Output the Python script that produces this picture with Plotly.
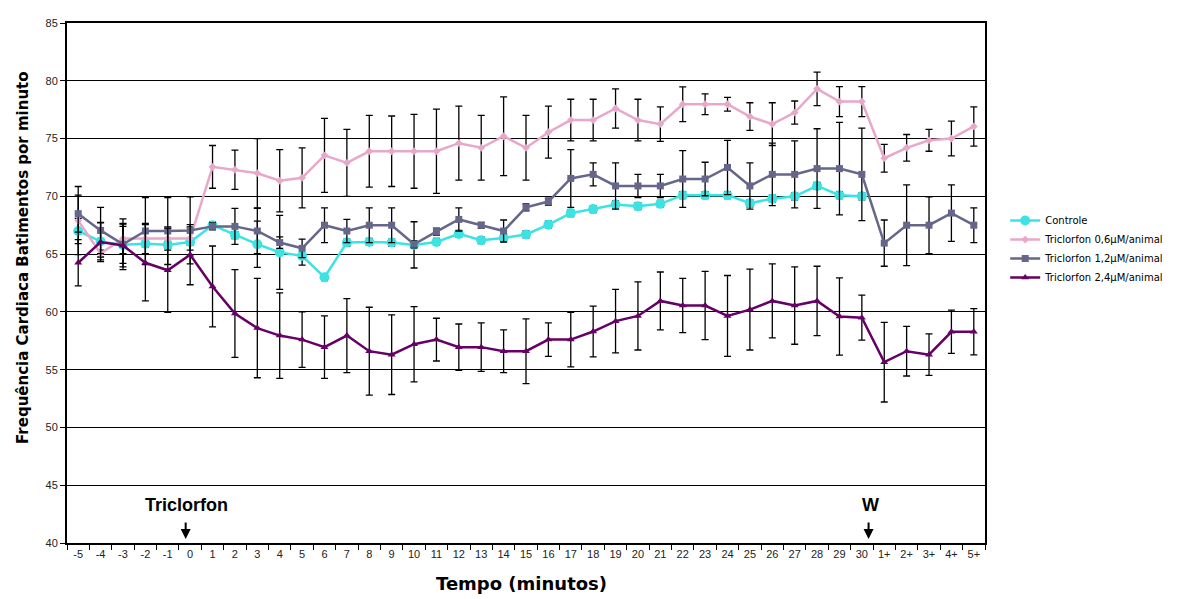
import plotly.graph_objects as go

categories = ["-5", "-4", "-3", "-2", "-1", "0"] + [str(i) for i in range(1, 31)] + ["1+", "2+", "3+", "4+", "5+"]

controle = [67.0, 66.1, 65.8, 65.9, 65.8, 66.05, 67.5, 66.65, 65.85, 65.15, 64.85, 63.0,
            66.0, 66.05, 66.0, 65.8, 66.05, 66.75, 66.2, 66.4, 66.7, 67.55, 68.55, 68.9,
            69.3, 69.15, 69.35, 70.1, 70.1, 70.1, 69.4, 69.8, 70.0, 70.9, 70.1, 70.0]
controle_err = [1.1, 1.6, 1.6, 0.3, 0.3, 0.3, 0.3, 0.3, 2.0, 3.2, 0.8, 0.3,
                0.3, 0.3, 0.3, 2.0, 0.3, 0.3, 0.3, 0.3, 0.3, 0.3, 0.3, 0.3,
                0.3, 0.3, 0.3, 0.3, 0.3, 0.3, 0.3, 0.3, 0.3, 0.3, 0.3, 0.3]

tric_06 = [67.9, 65.05, 66.35, 66.35, 66.35, 66.35, 72.55, 72.3, 72.0, 71.35, 71.6, 73.55,
           72.9, 73.9, 73.9, 73.9, 73.9, 74.6, 74.2, 75.2, 74.2, 75.55, 76.6, 76.6,
           77.6, 76.6, 76.25, 77.97, 77.97, 77.97, 76.9, 76.25, 77.25, 79.3, 78.2, 78.2,
           73.3, 74.2, 74.85, 75.0, 76.05]
tric_06_err = [2.95, 0.3, 1.3, 1.3, 1.0, 1.0, 1.85, 1.7, 3.0, 2.7, 2.6, 3.2,
               2.9, 3.1, 3.05, 3.2, 3.65, 3.2, 2.8, 3.4, 2.8, 2.25, 1.8, 1.8,
               1.7, 1.8, 1.5, 1.5, 0.9, 0.6, 1.2, 1.85, 1.0, 1.45, 1.3, 1.3,
               1.2, 1.15, 0.95, 1.5, 1.7]

tric_12 = [68.5, 67.05, 65.85, 67.0, 67.0, 67.05, 67.4, 67.4, 67.0, 66.0, 65.5, 67.5,
           67.0, 67.5, 67.5, 65.85, 66.95, 68.0, 67.5, 67.0, 69.05, 69.55, 71.55, 71.9,
           70.9, 70.9, 70.9, 71.5, 71.5, 72.5, 70.9, 71.9, 71.9, 72.4, 72.4, 71.9,
           65.95, 67.5, 67.5, 68.55, 67.5]
tric_12_err = [1.6, 2.0, 2.2, 2.9, 2.9, 2.9, 0.3, 1.55, 1.95, 0.5, 0.8, 1.5,
               1.0, 1.5, 1.5, 0.3, 0.3, 1.0, 0.25, 0.95, 0.3, 0.3, 2.5, 1.0,
               2.0, 1.0, 1.0, 2.45, 1.45, 2.35, 2.0, 2.7, 2.9, 3.45, 4.0, 4.0,
               2.0, 3.5, 2.45, 2.45, 1.5]

tric_24 = [64.25, 66.05, 65.75, 64.25, 63.6, 64.95, 62.2, 59.86, 58.6, 57.95, 57.6, 56.95,
           57.95, 56.6, 56.3, 57.2, 57.6, 56.95, 56.95, 56.6, 56.6, 57.6, 57.6, 58.3,
           59.2, 59.65, 60.95, 60.55, 60.55, 59.65, 60.2, 60.95, 60.55, 60.95, 59.6, 59.5,
           55.65, 56.6, 56.3, 58.28, 58.28]
tric_24_err = [2.0, 1.7, 1.85, 3.3, 3.65, 2.6, 3.5, 3.8, 4.3, 3.7, 2.4, 2.7,
               3.2, 3.8, 3.45, 3.25, 1.85, 2.0, 2.1, 1.85, 2.8, 1.45, 2.35, 2.2,
               2.75, 2.95, 2.5, 2.35, 2.95, 3.5, 3.5, 3.2, 3.35, 3.0, 3.35, 1.95,
               3.45, 2.15, 1.8, 1.87, 2.0]

series_names = ["Controle", "Triclorfon 0,6µM/animal", "Triclorfon 1,2µM/animal", "Triclorfon 2,4µM/animal"]
y_ticks = [40, 45, 50, 55, 60, 65, 70, 75, 80, 85]

styles = [
    dict(color="#3DE3E3", symbol="circle", size=10, lw=2.5),
    dict(color="#E8A8CA", symbol="diamond", size=6, lw=2.5),
    dict(color="#66668A", symbol="square", size=7, lw=2.5),
    dict(color="#660066", symbol="triangle-up", size=7, lw=2.5),
]
datasets = [(controle, controle_err), (tric_06, tric_06_err), (tric_12, tric_12_err), (tric_24, tric_24_err)]

fig = go.Figure()
for name, (vals, errs), st in zip(series_names, datasets, styles):
    fig.add_trace(go.Scatter(
        x=categories[:len(vals)], y=vals, name=name, mode="lines+markers",
        line=dict(color=st["color"], width=st["lw"]),
        marker=dict(color=st["color"], symbol=st["symbol"], size=st["size"]),
        error_y=dict(type="data", array=errs, visible=True, color="black", thickness=1.3, width=3.5),
    ))

# page body has an 8px default margin: size the figure so the plot area lands where the reference's does
fig.update_layout(
    width=1196, height=591,
    margin=dict(l=59, r=219, t=9, b=56),
    paper_bgcolor="white", plot_bgcolor="white",
    font=dict(family="Liberation Sans, Arial, sans-serif", color="#222"),
    showlegend=True,
    legend=dict(x=1.022, y=0.648, xanchor="left", yanchor="top",
                font=dict(size=10, color="black", family="DejaVu Sans, Arial"),
                bgcolor="rgba(0,0,0,0)", itemwidth=30, tracegroupgap=0),
    xaxis=dict(type="category", categoryorder="array", categoryarray=categories,
               range=[-0.5, len(categories) - 0.5], showgrid=False,
               ticks="outside", tickson="boundaries", ticklen=5, tickcolor="black",
               showline=True, linecolor="black", linewidth=2, mirror=True,
               tickfont=dict(size=11, color="#222"), tickangle=0),
    yaxis=dict(range=[40, 85], tickvals=y_ticks, showgrid=True, gridcolor="black", gridwidth=1,
               ticks="outside", ticklen=5, tickcolor="black",
               showline=True, linecolor="black", linewidth=2, mirror=True,
               tickfont=dict(size=11, color="#222"), zeroline=False),
)

fig.add_annotation(text="<b>Frequência Cardiaca Batimentos por minuto</b>", xref="paper", yref="paper",
                   x=-0.06, y=0.55, textangle=-90, showarrow=False,
                   font=dict(size=15, color="black", family="DejaVu Sans, Arial"))
fig.add_annotation(text="<b>Tempo (minutos)</b>", xref="paper", yref="paper",
                   x=0.495, y=-0.078, yanchor="middle", showarrow=False,
                   font=dict(size=18, color="black", family="DejaVu Sans, Arial"))

# event markers
fig.add_annotation(text="<b>Triclorfon</b>", x=4.85, y=43.3, xref="x", yref="y", showarrow=False,
                   font=dict(size=18, color="black", family="Liberation Sans, Arial"))
fig.add_annotation(text="", x=4.8, y=40.35, xref="x", yref="y", ax=0, ay=-18,
                   showarrow=True, arrowhead=2, arrowsize=1, arrowwidth=2, arrowcolor="black")
fig.add_annotation(text="<b>W</b>", x=35.4, y=43.3, xref="x", yref="y", showarrow=False,
                   font=dict(size=18, color="black", family="Liberation Sans, Arial"))
fig.add_annotation(text="", x=35.3, y=40.35, xref="x", yref="y", ax=0, ay=-18,
                   showarrow=True, arrowhead=2, arrowsize=1, arrowwidth=2, arrowcolor="black")

fig.write_html("out.html")
